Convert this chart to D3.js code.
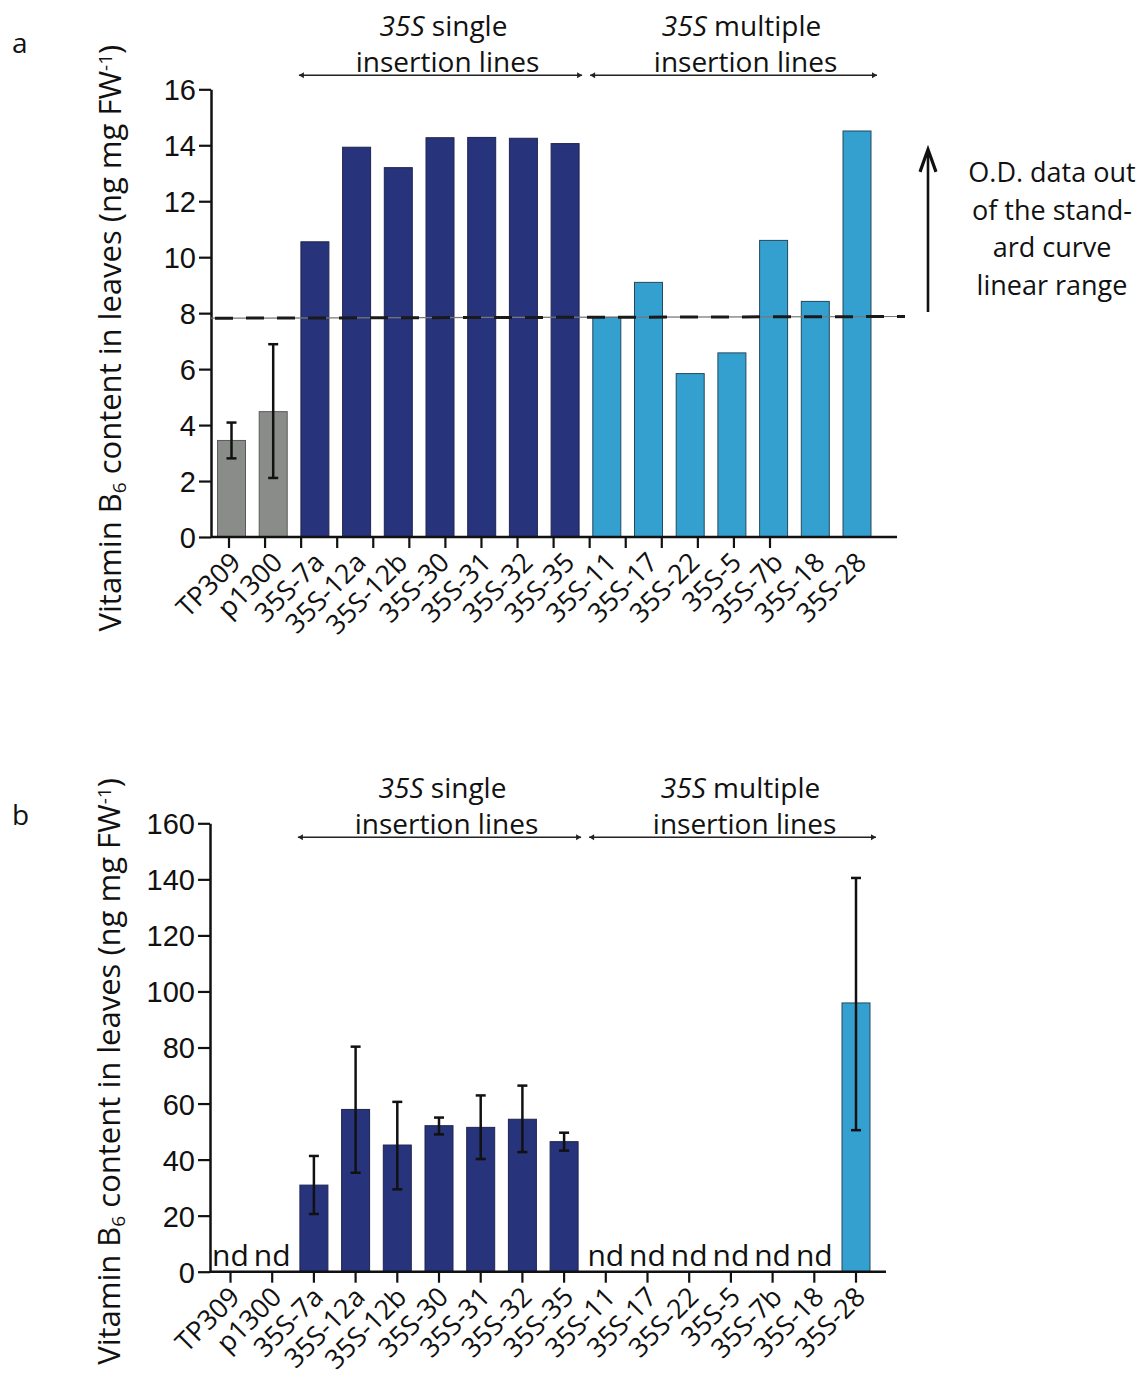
<!DOCTYPE html>
<html>
<head>
<meta charset="utf-8">
<script src="https://cdn.jsdelivr.net/npm/d3@7"></script>
<style>
  body { margin: 0; background: #fff; }
  svg { font-family: "Open Sans", sans-serif; }
</style>
</head>
<body>
<svg id="chart" width="1142" height="1377"></svg>
<script>
// data //
const lines = ["TP309", "p1300", "35S-7a", "35S-12a", "35S-12b", "35S-30", "35S-31", "35S-32", "35S-35",
  "35S-11", "35S-17", "35S-22", "35S-5", "35S-7b", "35S-18", "35S-28"]
const lineGroup = ["control", "control", "single", "single", "single", "single", "single", "single", "single",
  "multiple", "multiple", "multiple", "multiple", "multiple", "multiple", "multiple"]

// panel a (values capped by the O.D. range)
const valuesA = [3.45, 4.48, 10.55, 13.93, 13.2, 14.27, 14.28, 14.25, 14.06, 7.85, 9.1, 5.84, 6.58, 10.6, 8.42, 14.51]
const errLowA = [2.81, 2.11, null, null, null, null, null, null, null, null, null, null, null, null, null, null]
const errHighA = [4.09, 6.89, null, null, null, null, null, null, null, null, null, null, null, null, null, null]
const ticksA = [0, 2, 4, 6, 8, 10, 12, 14, 16]
const odLimit = [7.82, 7.88]   // dashed line, start and end

// panel b (null = nd)
const valuesB = [null, null, 30.9, 57.9, 45.2, 52.1, 51.5, 54.4, 46.4, null, null, null, null, null, null, 95.9]
const errLowB = [null, null, 20.6, 35.3, 29.4, 49.0, 40.2, 42.7, 43.2, null, null, null, null, null, null, 50.5]
const errHighB = [null, null, 41.3, 80.3, 60.6, 55.0, 62.9, 66.4, 49.6, null, null, null, null, null, null, 140.5]
const ticksB = [0, 20, 40, 60, 80, 100, 120, 140, 160]

const colors = { control: "#8a8c8a", single: "#27337a", multiple: "#34a0cf" }
const strokes = { control: "#5a5a5a", single: "#1f2550", multiple: "#24495c" }

const svg = d3.select("#chart")

/**
 * draws one bar panel
 */
function drawPanel(opt) {
    const g = svg.append("g").attr("transform", `translate(${opt.left}, ${opt.top})`)
    const width = opt.width
    const height = opt.height

    // scales //
    const x = d3.scalePoint().domain(lines).range([20.5, 20.5 + 15 * 41.7])
    const y = d3.scaleLinear().domain([0, opt.max]).range([height, 0])
    const barW = 28

    // bars //
    const rows = lines.map((d, i) => ({
        name: d, group: lineGroup[i], v: opt.values[i], lo: opt.errLow[i], hi: opt.errHigh[i]
    }))

    g.selectAll("rect.bar")
        .data(rows.filter(d => d.v != null))
        .join("rect")
        .attr("class", "bar")
        .attr("x", d => x(d.name) - barW / 2)
        .attr("y", d => y(d.v))
        .attr("width", barW)
        .attr("height", d => height - y(d.v))
        .attr("fill", d => colors[d.group])
        .attr("stroke", d => strokes[d.group])
        .attr("stroke-width", 1)

    // error bars //
    const err = rows.filter(d => d.lo != null)
    g.selectAll("line.err")
        .data(err)
        .join("line")
        .attr("x1", d => x(d.name)).attr("x2", d => x(d.name))
        .attr("y1", d => y(d.lo)).attr("y2", d => y(d.hi))
        .attr("stroke", "#111").attr("stroke-width", 2.5)
    g.selectAll("line.capHi")
        .data(err)
        .join("line")
        .attr("x1", d => x(d.name) - 5).attr("x2", d => x(d.name) + 5)
        .attr("y1", d => y(d.hi)).attr("y2", d => y(d.hi))
        .attr("stroke", "#111").attr("stroke-width", 2.5)
    g.selectAll("line.capLo")
        .data(err)
        .join("line")
        .attr("x1", d => x(d.name) - 5).attr("x2", d => x(d.name) + 5)
        .attr("y1", d => y(d.lo)).attr("y2", d => y(d.lo))
        .attr("stroke", "#111").attr("stroke-width", 2.5)

    // nd labels //
    g.selectAll("text.nd")
        .data(rows.filter(d => d.v == null))
        .join("text")
        .attr("x", d => x(d.name))
        .attr("y", height - 6)
        .attr("text-anchor", "middle")
        .style("font-size", "30px")
        .style("fill", "#111")
        .text("nd")

    // Y axis //
    const yAxis = d3.axisLeft(y).tickValues(opt.ticks).tickSize(12).tickSizeOuter(0).tickPadding(3)
    const ya = g.append("g").call(yAxis)
    ya.select(".domain").attr("stroke", "#111").attr("stroke-width", 2.5)
    ya.selectAll(".tick line").attr("stroke", "#111").attr("stroke-width", 2.2)
    ya.selectAll(".tick text").style("font-size", "29px").style("fill", "#111").attr("dy", "0.36em")

    // X axis //
    g.append("line")
        .attr("x1", 0).attr("x2", width)
        .attr("y1", height).attr("y2", height)
        .attr("stroke", "#111").attr("stroke-width", 2.5)

    const tickX = opt.tickScale || x
    g.selectAll("line.xtick")
        .data(lines)
        .join("line")
        .attr("x1", d => tickX(d)).attr("x2", d => tickX(d))
        .attr("y1", height).attr("y2", height + 11)
        .attr("stroke", "#111").attr("stroke-width", 2.2)

    g.selectAll("text.xlab")
        .data(lines)
        .join("text")
        .attr("transform", d => `translate(${x(d) + 11}, ${height + 27}) rotate(-45)`)
        .attr("text-anchor", "end")
        .style("font-size", "27px")
        .style("fill", "#111")
        .text(d => d)

    // y label //
    const yl = g.append("text")
        .attr("transform", `translate(${-90}, ${height / 2 + opt.labelShift}) rotate(-90)`)
        .attr("text-anchor", "middle")
        .style("font-size", "31px")
        .style("fill", "#111")
    yl.append("tspan").text("Vitamin B")
    yl.append("tspan").attr("baseline-shift", "-25%").style("font-size", "19px").text("6")
    yl.append("tspan").text(" content in leaves (ng mg FW")
    yl.append("tspan").attr("baseline-shift", "45%").style("font-size", "19px").text("-1")
    yl.append("tspan").text(")")

    // panel letter //
    g.append("text")
        .attr("x", -opt.left + 12).attr("y", opt.letterY)
        .style("font-size", "28px").style("fill", "#111")
        .text(opt.letter)

    // group annotations //
    const groups = [
        { from: 2, to: 8, word: "single", shift: 5 },
        { from: 9, to: 15, word: "multiple", shift: 10 }
    ]
    groups.forEach((gr, k) => {
        const x1 = k === 0 ? x(lines[gr.from]) - 16 : x(lines[gr.from - 1]) + 25
        const x2 = k === 0 ? x(lines[gr.to]) + 17 : x(lines[gr.to]) + 20
        const cx = (x1 + x2) / 2 + gr.shift
        const ay = opt.arrowY
        g.append("line")
            .attr("x1", x1).attr("x2", x2).attr("y1", ay).attr("y2", ay)
            .attr("stroke", "#222").attr("stroke-width", 1.6)
        ;[[x1, 1], [x2, -1]].forEach(([px, dir]) => {
            g.append("path")
                .attr("d", `M${px},${ay} l${dir * 5},-3 l0,6 z`)
                .attr("fill", "#222")
        })
        const t1 = g.append("text")
            .attr("x", cx - 2).attr("y", ay - 39)
            .attr("text-anchor", "middle")
            .style("font-size", "28px").style("fill", "#111")
        t1.append("tspan").style("font-style", "italic").text("35S")
        t1.append("tspan").text(" " + gr.word)
        g.append("text")
            .attr("x", cx + 2).attr("y", ay - 3)
            .attr("text-anchor", "middle")
            .style("font-size", "28px").style("fill", "#111")
            .text("insertion lines")
    })

    return { g, x, y }
}

// panel a //
const pa = drawPanel({
    left: 211, top: 89.3, width: 686, height: 447.7, max: 16, ticks: ticksA,
    values: valuesA, errLow: errLowA, errHigh: errHighA,
    tickScale: d3.scalePoint().domain(lines).range([18, 559]),
    labelShift: 25, letter: "a", letterY: -36, arrowY: -14
})

// O.D. limit line //
pa.g.append("line")
    .attr("x1", 0).attr("x2", 690)
    .attr("y1", pa.y(odLimit[0])).attr("y2", pa.y(odLimit[1]))
    .attr("stroke", "#777").attr("stroke-width", 1.2)
pa.g.append("line")
    .attr("x1", 4).attr("x2", 694)
    .attr("y1", pa.y(odLimit[0])).attr("y2", pa.y(odLimit[1]))
    .attr("stroke", "#1a1a1a").attr("stroke-width", 3)
    .attr("stroke-dasharray", "18,13")

// arrow + note //
const arrowX = 717
pa.g.append("line")
    .attr("x1", arrowX).attr("x2", arrowX)
    .attr("y1", pa.y(8.04)).attr("y2", pa.y(13.8))
    .attr("stroke", "#111").attr("stroke-width", 2.6)
pa.g.append("path")
    .attr("d", `M${arrowX - 8},${pa.y(13.05)} L${arrowX},${pa.y(13.85)} L${arrowX + 8},${pa.y(13.05)}`)
    .attr("fill", "none").attr("stroke", "#111").attr("stroke-width", 3.2)

const note = ["O.D. data out", "of the stand-", "ard curve", "linear range"]
pa.g.selectAll("text.note")
    .data(note)
    .join("text")
    .attr("x", 841)
    .attr("y", (d, i) => 93 + i * 37.5)
    .attr("text-anchor", "middle")
    .style("font-size", "27px")
    .style("fill", "#111")
    .text(d => d)

// panel b //
drawPanel({
    left: 210, top: 823.3, width: 676, height: 448.4, max: 160, ticks: ticksB,
    values: valuesB, errLow: errLowB, errHigh: errHighB,
    labelShift: 24, letter: "b", letterY: 2, arrowY: 14
})
</script>
</body>
</html>
